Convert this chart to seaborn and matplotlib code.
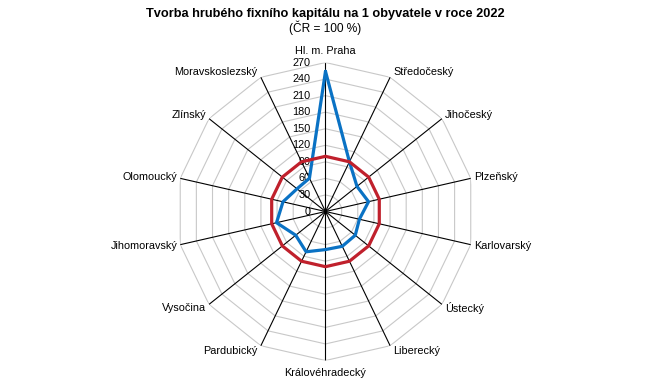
import numpy as np
import pandas as pd
import matplotlib
matplotlib.use("Agg")
import matplotlib.pyplot as plt
import seaborn as sns

# ---- data ----
categories = ["Hl. m. Praha", "Středočeský", "Jihočeský", "Plzeňský", "Karlovarský",
              "Ústecký", "Liberecký", "Královéhradecký", "Pardubický", "Vysočina",
              "Jihomoravský", "Olomoucký", "Zlínský", "Moravskoslezský"]
region_values = [254, 100, 73, 80, 63, 69, 70, 69, 81, 69, 91, 79, 66, 67]
cr_values = [100] * 14
radial_ticks = [0, 30, 60, 90, 120, 150, 180, 210, 240, 270]
title = "Tvorba hrubého fixního kapitálu na 1 obyvatele v roce 2022"
subtitle = "(ČR = 100 %)"

sns.set_theme(style="white")
plt.rcParams["font.family"] = ["Liberation Sans", "DejaVu Sans"]
plt.rcParams["text.color"] = "black"

n = len(categories)
theta = np.linspace(0, 2 * np.pi, n, endpoint=False)
theta_c = np.append(theta, 2 * np.pi)

df = pd.DataFrame({
    "theta": np.concatenate([theta_c, theta_c]),
    "value": np.concatenate([region_values + region_values[:1], cr_values + cr_values[:1]]),
    "series": ["kraj"] * (n + 1) + ["ČR"] * (n + 1),
})

fig = plt.figure(figsize=(6.5, 3.84), dpi=100)
ax = fig.add_axes([0.2715, 0.0612, 0.4585, 0.776], polar=True)
ax.set_theta_zero_location("N")
ax.set_theta_direction(-1)
ax.set_ylim(0, radial_ticks[-1])
ax.grid(False)
ax.spines["polar"].set_visible(False)
ax.set_facecolor("white")

# polygon grid rings
for r in radial_ticks[1:]:
    ax.plot(theta_c, [r] * (n + 1), color="#C8C8C8", lw=0.8, zorder=1)
# spokes
for t in theta:
    ax.plot([t, t], [0, radial_ticks[-1]], color="black", lw=0.8, zorder=2)

# radial tick labels
for r in radial_ticks:
    ax.annotate(str(r), xy=(0, r), xytext=(-15, 0), textcoords="offset pixels",
                ha="right", va="center", fontsize=7.8, color="black", zorder=3)

sns.lineplot(data=df, x="theta", y="value", hue="series", sort=False, ax=ax,
             palette={"kraj": "#0A72C4", "ČR": "#C0202C"}, linewidth=2.3,
             legend=False, zorder=4, estimator=None)
ax.set_xlabel("")
ax.set_ylabel("")
ax.set_xticks([])
ax.set_yticks([])

# category labels
for t, lab in zip(theta, categories):
    s, c = np.sin(t), np.cos(t)
    if abs(s) < 0.1:
        ha, dx = "center", 0
        dy = 11.5 if c > 0 else -12.5
    else:
        ha = "left" if s > 0 else "right"
        dx = 3 * np.sign(s)
        dy = 5.5 * c
    ax.annotate(lab, xy=(t, radial_ticks[-1]), xytext=(dx, dy), textcoords="offset pixels",
                ha=ha, va="center", fontsize=7.8, color="black", annotation_clip=False)

fig.text(0.5, 1 - 14 / 384, title, ha="center", va="center", fontsize=9.2,
         fontweight="bold", color="black")
fig.text(0.5, 1 - 27.5 / 384, subtitle, ha="center", va="center", fontsize=8.6, color="black")

fig.savefig("out.png", dpi=100, facecolor="white")
